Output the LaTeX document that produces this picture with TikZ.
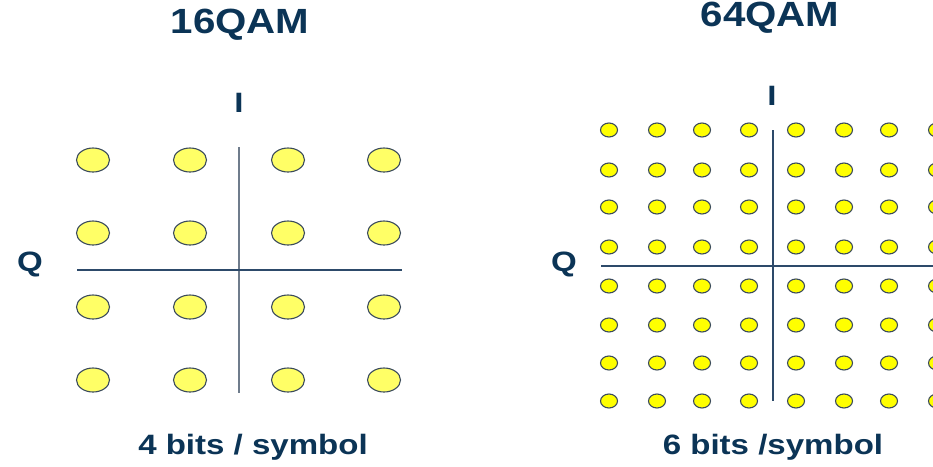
\documentclass[tikz,border=0pt]{standalone}
\usepackage{fontspec}
\setmainfont{Liberation Sans}
\usetikzlibrary{shapes.geometric}
\definecolor{qamtext}{HTML}{0B3456}
\definecolor{qamaxis}{HTML}{2D4A6A}
\definecolor{qamgrey}{HTML}{6F7C8C}
\definecolor{qamedge}{HTML}{3B4B5C}
\definecolor{qamlite}{HTML}{FFFF66}
\definecolor{qamfull}{HTML}{FFFF00}

\begin{document}
\begin{tikzpicture}[x=1pt,y=-1pt,line width=.5pt,
  bigtitle/.style={inner sep=0pt,text=qamtext,xscale=1.15,font=\bfseries\fontsize{35}{40}\selectfont},
  axislabel/.style={inner sep=0pt,text=qamtext,xscale=1.18,font=\bfseries\fontsize{28}{32}\selectfont},
  bigdot/.style={ellipse,draw=qamedge,fill=qamlite,line width=1.1pt,inner sep=0pt,minimum width=33pt,minimum height=24pt},
  smalldot/.style={ellipse,draw=qamedge,fill=qamfull,line width=1.1pt,inner sep=0pt,minimum width=17pt,minimum height=14pt}]
\clip (0,0) rectangle (933,466);
\fill[white] (0,0) rectangle (933,466);
% 16QAM
\node[bigtitle] (t16) at (240,25) {16QAM};
\node[axislabel] (i16) at (239,103) {I};
\node[axislabel] (q16) at (30,264) {Q};
\coordinate (v16top) at (239,147);
\coordinate (v16bot) at (239,393);
\coordinate (h16left) at (77,270);
\coordinate (h16right) at (402,270);
\draw[qamgrey,line width=1.2pt] (v16top) -- (v16bot);
\draw[qamaxis,line width=1.2pt] (h16left) -- (h16right);
\foreach \x [count=\i] in {93,190,288,384}
  \foreach \y [count=\j] in {160,233,307,380}
    \node[bigdot] (q16-\i-\j) at (\x,\y) {};
\node[axislabel] (b16) at (253,447) {4 bits / symbol};
% 64QAM
\node[bigtitle] (t64) at (770,18) {64QAM};
\node[axislabel] (i64) at (772,96) {I};
\node[axislabel] (q64) at (564,264) {Q};
\coordinate (v64top) at (773,130);
\coordinate (v64bot) at (773,401);
\coordinate (h64left) at (601,266);
\coordinate (h64right) at (940,266);
\draw[qamaxis,line width=1.2pt] (v64top) -- (v64bot);
\draw[qamaxis,line width=1.2pt] (h64left) -- (h64right);
\foreach \x [count=\i] in {609,657,702,749,796,844,889,937}
  \foreach \y [count=\j] in {130,170,207,247,286,325,363,401}
    \node[smalldot] (q64-\i-\j) at (\x,\y) {};
\node[axislabel] (b64) at (773,447) {6 bits /symbol};
\end{tikzpicture}
\end{document}
